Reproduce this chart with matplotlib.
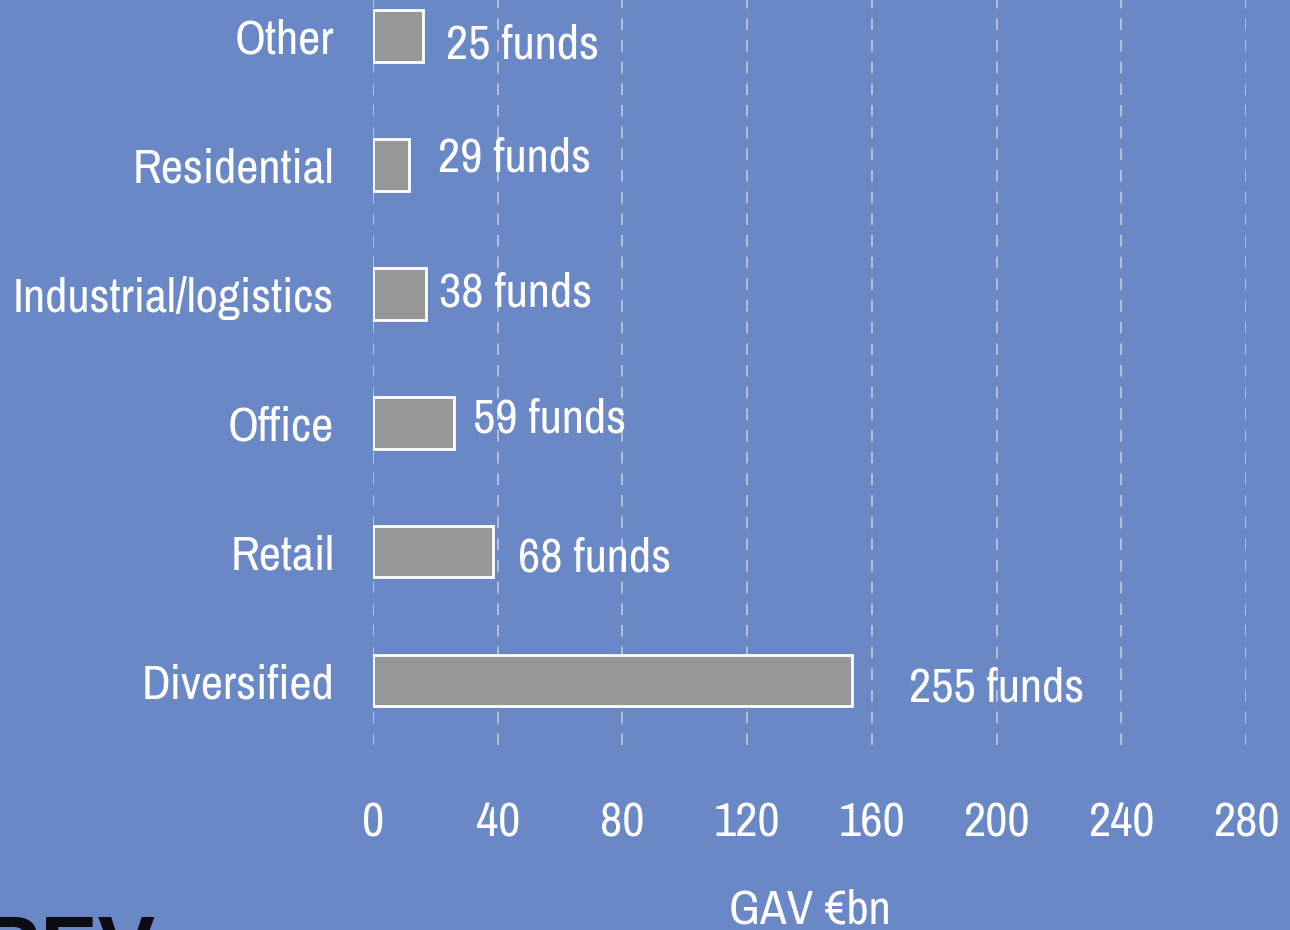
import matplotlib
matplotlib.use('Agg')
import matplotlib.pyplot as plt
import numpy as np

# data
sectors = ['Diversified', 'Retail', 'Office', 'Industrial/logistics', 'Residential', 'Other']
gav_bn = [153.5, 38.5, 26.0, 17.0, 11.5, 16.0]
fund_counts = [255, 68, 59, 38, 29, 25]
x_ticks = [0, 40, 80, 120, 160, 200, 240, 280]

bg = '#6b88c6'
plt.rcParams['font.family'] = ['Archivo Narrow', 'DejaVu Sans']
fs = 35

fig = plt.figure(figsize=(12.9, 9.3), dpi=100, facecolor=bg)
ax = fig.add_axes([373 / 1290, 1 - 745 / 930, 873 / 1290, 745 / 930])
ax.set_facecolor(bg)

y = np.arange(len(sectors))
ax.barh(y, gav_bn, height=0.40, color='#979797', edgecolor='white', linewidth=2, zorder=3)

ax.set_xlim(0, 280)
ax.set_ylim(-0.5, 5.28)
ax.set_xticks(x_ticks)
ax.set_xticklabels([str(t) for t in x_ticks])
ax.set_yticks(y)
ax.set_yticklabels(sectors)
ax.tick_params(axis='both', length=0, colors='white', labelsize=fs)
ax.tick_params(axis='x', pad=41)
ax.tick_params(axis='y', pad=28)
for s in ax.spines.values():
    s.set_visible(False)
ax.xaxis.grid(True, color='#c4c8d4', linestyle=(0, (7, 6)), linewidth=1.2, zorder=0)
ax.set_axisbelow(True)

ax.set_xlabel('GAV €bn', color='white', fontsize=fs, labelpad=31)

# label offsets (px right of bar end, px down from bar centre)
offsets = [(57, 7), (25, 6), (19, -4), (13, -1), (29, -7), (23, 9)]
for yi, v, n, (dx, dy) in zip(y, gav_bn, fund_counts, offsets):
    ax.annotate(f'{n} funds', (v, yi), xytext=(dx * 0.72, -dy * 0.72),
                textcoords='offset points', ha='left', va='center',
                color='white', fontsize=fs, zorder=4)

# fragment of a logo at the bottom-left edge
fig.text(-22 / 1290, 1 - 913 / 930, 'REV', color='#0c0c16', fontsize=62,
         fontweight='bold', family='Liberation Sans', ha='left', va='top')

fig.savefig('out.png', dpi=100, facecolor=bg)
